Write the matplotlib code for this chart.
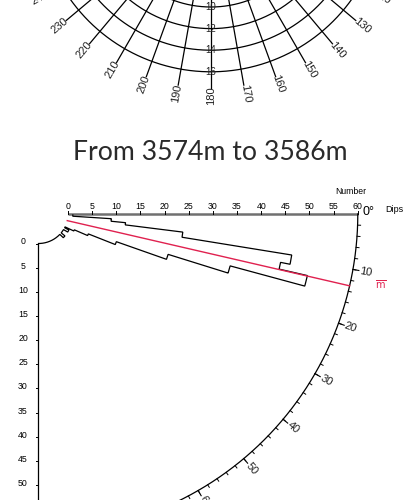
import numpy as np
import matplotlib
matplotlib.use('Agg')
import matplotlib.pyplot as plt

# top rose, only the lower part is on the page
rose_spokes = [120, 130, 140, 150, 160, 170, 180, 190, 200, 210, 220, 230, 240]
rose_rings = [10, 12, 14, 16]

# dip histogram
dip_edges = [1.7, 3.7, 5.7, 7.15, 9.2, 11.3, 12.9, 15.15, 17.3, 19.5, 21.7, 23.7, 25.7, 27.7,
             29.7, 31.7, 33.7, 35.7, 37.7, 39.7, 41.7, 43.7, 90.0]
dip_counts = [1, 9, 12, 24, 47, 45, 51, 35, 22, 11, 5, 2, 0, 1, 1, 0, 0, 0, 0, 1, 1, 0]
mean_dip = 13.0

number_ticks = list(range(0, 65, 5))
depth_ticks = list(range(0, 55, 5))
dip_major = [10, 20, 30, 40, 50, 60]
dip_minor = list(range(2, 90, 2))

red = '#e0214f'
font = 'Liberation Sans'

# layout in pixels
rose_x, rose_y, rose_scale = 211.0, -101.0, 10.8
hist_x, hist_y, hist_r0, hist_scale = 38.5, 214.0, 29.5, 4.83


def rose_xy(angle, r):
    a = np.radians(angle)
    return rose_x + r * np.sin(a), rose_y - r * np.cos(a)


def hist_xy(dip, n):
    a = np.radians(dip)
    r = hist_r0 + np.asarray(n) * hist_scale
    return hist_x + r * np.cos(a), hist_y + r * np.sin(a)


fig = plt.figure(figsize=(4.12, 5.0), dpi=100)
ax = fig.add_axes([0, 0, 1, 1])
ax.set_xlim(0, 412)
ax.set_ylim(500, 0)
ax.axis('off')

# rose
theta = np.linspace(0, 360, 721)
for ring in rose_rings:
    x, y = rose_xy(theta, ring * rose_scale)
    ax.plot(x, y, color='black', lw=0.9)
    ax.text(rose_x, rose_y + ring * rose_scale, str(ring), family=font, fontsize=7,
            ha='center', va='center', color='#222222')
for sp in rose_spokes:
    x, y = rose_xy(sp, np.array([0, 17.5]) * rose_scale)
    ax.plot(x, y, color='black', lw=0.9)
    lx, ly = rose_xy(sp, 18.25 * rose_scale)
    rot = 270 - sp if sp >= 180 else 90 - sp
    ax.text(lx, ly, str(sp), family=font, fontsize=8, rotation=rot, rotation_mode='anchor',
            ha='center', va='center', color='#222222')

ax.text(210, 152, 'From 3574m to 3586m', family='Lato', fontsize=19.2,
        ha='center', va='center', color='#2a2a2a')

# number axis on top
x0, y0 = hist_xy(0, 0)
x1, y1 = hist_xy(0, 60)
ax.plot([x0, x1], [y0, y1], color='#707070', lw=1.8, solid_capstyle='butt')
for n in number_ticks:
    tx, ty = hist_xy(0, n)
    ax.plot([tx, tx], [ty, ty - 3], color='black', lw=0.7)
    ax.text(tx, ty - 7.5, str(n), family=font, fontsize=6.3, ha='center', va='center')
ax.text(351, 191.5, 'Number', family=font, fontsize=6.2, ha='center', va='center')
ax.text(394, 209.5, 'Dips', family=font, fontsize=6.5, ha='center', va='center')
ax.text(369, 212, '0°', family=font, fontsize=9, ha='center', va='center')

# depth axis on the left
ax.plot([hist_x, hist_x], [hist_y + hist_r0, 500], color='black', lw=0.9)
for d in depth_ticks:
    ty = hist_y + hist_r0 + d * hist_scale
    ax.plot([hist_x - 2.5, hist_x], [ty, ty], color='black', lw=0.7)
    ax.text(23, ty - 1.5, str(d), family=font, fontsize=6.3, ha='center', va='center')

# outer dip arc with ticks
dips = np.linspace(0, 90, 361)
x, y = hist_xy(dips, 60)
ax.plot(x, y, color='black', lw=0.9)
for d in dip_minor:
    a, b = hist_xy(d, 60), hist_xy(d, 60 + 3.0 / hist_scale)
    ax.plot([a[0], b[0]], [a[1], b[1]], color='black', lw=0.7)
for d in dip_major:
    a, b = hist_xy(d, 60), hist_xy(d, 60 + 6.0 / hist_scale)
    ax.plot([a[0], b[0]], [a[1], b[1]], color='black', lw=0.8)
    lx, ly = hist_xy(d, 60 + 13.0 / hist_scale)
    ax.text(lx, ly, str(d), family=font, fontsize=8, rotation=-d, rotation_mode='anchor',
            ha='center', va='center', color='#222222')

# histogram outline: radial sides, tangential caps
ox, oy = [], []
for i, c in enumerate(dip_counts):
    seg = np.linspace(dip_edges[i], dip_edges[i + 1], 30)
    px, py = hist_xy(seg, np.full(30, c))
    ox.extend(px)
    oy.extend(py)
ax.plot(ox, oy, color='black', lw=0.9, solid_joinstyle='miter')

# mean dip
mx, my = hist_xy(np.array([mean_dip, mean_dip]), np.array([0, 60]))
ax.plot(mx, my, color=red, lw=1.0)
ax.text(380.5, 285, r'$\overline{\mathrm{m}}$', color=red, fontsize=7, ha='center', va='center')

fig.savefig('out.png', dpi=100)
